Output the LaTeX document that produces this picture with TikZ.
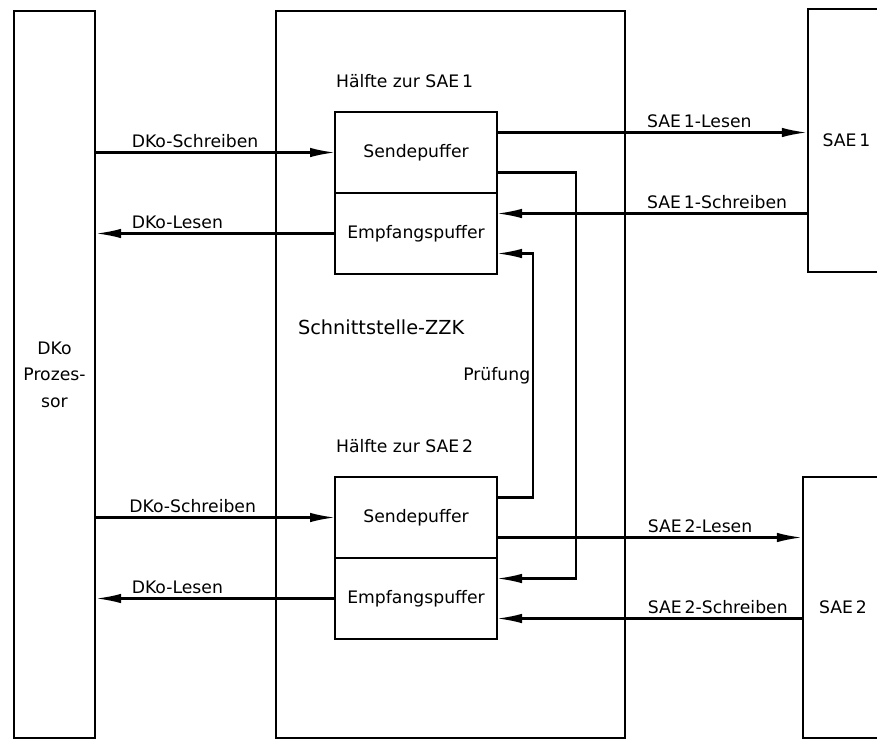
\documentclass[tikz,border=0pt]{standalone}
\usepackage{fontspec}
\setmainfont{DejaVu Sans}
\usetikzlibrary{arrows.meta, positioning, calc}

\begin{document}
\begin{tikzpicture}[
    x=0.2mm, y=-0.2mm,
    font=\fontsize{9.8}{12}\selectfont,
    line width=1.2pt,
    block/.style={draw, line width=1.3pt, inner sep=0pt},
    buf/.style={draw, line width=1.3pt, minimum width=32.4mm, minimum height=16.2mm,
                inner sep=0pt, outer sep=0pt},
    flow/.style={-{Latex[length=5mm, width=1.9mm]}},
    backflow/.style={{Latex[length=5mm, width=1.9mm]}-},
    lbl/.style={anchor=south west, inner sep=2pt},
  ]
  \useasboundingbox (0,0) rectangle (877,741);

  % processor, interface and the two SAE units
  \node[block, minimum width=16.2mm, minimum height=145.4mm, align=center,
        font=\fontsize{9.8}{15}\selectfont] (dko) at (54.5,374.5) {DKo\\Prozes-\\sor};
  \node[block, minimum width=69.8mm, minimum height=145.4mm] (zzk) at (450.5,374.5) {};
  \node[block, minimum width=15.4mm, minimum height=52.6mm] (sae1) at (846.5,140.5) {SAE\,1};
  \node[block, minimum width=16mm, minimum height=52.2mm] (sae2) at (843,607.5) {SAE\,2};
  \node[anchor=west, inner sep=0pt, font=\fontsize{11}{13}\selectfont] (title) at (297,327)
    {Schnittstelle-ZZK};

  % buffer halves
  \node[buf] (send1) at (416,152.5) {Sendepuffer};
  \node[buf, below=0pt of send1] (empf1) {Empfangspuffer};
  \node[buf] (send2) at (416,517.5) {Sendepuffer};
  \node[buf, below=0pt of send2] (empf2) {Empfangspuffer};
  \node[anchor=south west, inner sep=0pt] (half1) at ([yshift=4.6mm]send1.north west)
    {Hälfte zur SAE\,1};
  \node[anchor=south west, inner sep=0pt] (half2) at ([yshift=4.6mm]send2.north west)
    {Hälfte zur SAE\,2};

  \coordinate (s1a) at ([yshift=4mm]send1.east);
  \coordinate (s1b) at ([yshift=-4mm]send1.east);
  \coordinate (e1a) at ([yshift=4mm]empf1.east);
  \coordinate (e1b) at ([yshift=-4mm]empf1.east);
  \coordinate (s2a) at ([yshift=4mm]send2.east);
  \coordinate (s2b) at ([yshift=-4mm]send2.east);
  \coordinate (e2a) at ([yshift=4mm]empf2.east);
  \coordinate (e2b) at ([yshift=-4mm]empf2.east);

  % processor side
  \draw[flow] (dko.east |- send1.west) -- node[lbl, pos=0.13] {DKo-Schreiben} (send1.west);
  \draw[backflow] (dko.east |- empf1.west) -- node[lbl, pos=0.13] {DKo-Lesen} (empf1.west);
  \draw[flow] (dko.east |- send2.west) -- node[lbl, pos=0.12] {DKo-Schreiben} (send2.west);
  \draw[backflow] (dko.east |- empf2.west) -- node[lbl, pos=0.13] {DKo-Lesen} (empf2.west);

  % SAE side
  \draw[flow] (s1a) -- node[lbl, pos=0.47] {SAE\,1-Lesen} (s1a -| sae1.west);
  \draw[backflow] (e1a) -- node[lbl, pos=0.47] {SAE\,1-Schreiben} (e1a -| sae1.west);
  \draw[flow] (s2b) -- node[lbl, pos=0.48] {SAE\,2-Lesen} (s2b -| sae2.west);
  \draw[backflow] (e2b) -- node[lbl, pos=0.48] {SAE\,2-Schreiben} (e2b -| sae2.west);

  % cross paths between the halves
  \draw[flow] (s1b) -- ++(79,0) |- (e2a);
  \draw[flow] (s2a) -- ++(36,0) |- node[pos=0.25, left, inner sep=1pt] {Prüfung} (e1b);
\end{tikzpicture}
\end{document}
